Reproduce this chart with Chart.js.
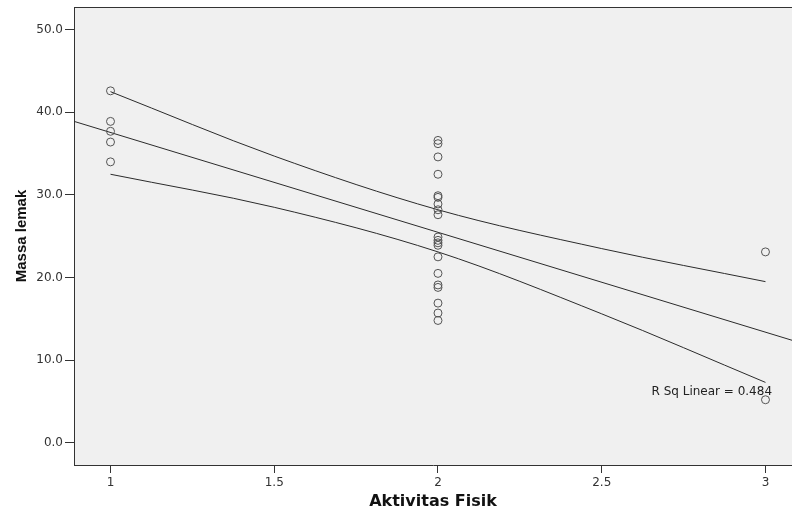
<!DOCTYPE html>
<html>
<head>
<meta charset="utf-8">
<script src="https://cdn.jsdelivr.net/npm/chart.js@4/dist/chart.umd.min.js"></script>
<style>
  html, body { margin: 0; padding: 0; background: #fff; }
  #wrap { width: 792px; height: 517px; }
</style>
</head>
<body>
<div id="wrap"><canvas id="massaChart"></canvas></div>
<script>
// data
const groupX = [1, 2, 3];
const massaAkt1 = [42.6, 38.9, 37.7, 36.4, 34.0];
const massaAkt2 = [36.6, 36.2, 34.6, 32.5, 29.9, 29.7, 28.9, 28.2, 27.6, 24.9,
                   24.5, 24.2, 23.9, 22.5, 20.5, 19.1, 18.8, 16.9, 15.7, 14.8];
const massaAkt3 = [23.1, 5.2];

const fitX = [0.889, 3.081];
const fitY = [38.9, 12.4];

const ciX = [1, 1.5, 2, 2.5, 3];
const ciUpper = [42.5, 34.7, 28.2, 23.5, 19.5];
const ciLower = [32.5, 28.5, 23.1, 15.6, 7.3];

const xTicks = [1, 1.5, 2, 2.5, 3];
const yTicks = [0, 10, 20, 30, 40, 50];
const rSqLabel = 'R Sq Linear = 0.484';

const scatterPoints = [];
[massaAkt1, massaAkt2, massaAkt3].forEach(function (vals, i) {
    vals.forEach(function (v) { scatterPoints.push({ x: groupX[i], y: v }); });
});

function toXY(xs, ys) {
    return xs.map(function (x, i) { return { x: x, y: ys[i] }; });
}

const lineColor = '#2b2b2b';

// grey plot background + top frame line + R square text
const plotFrame = {
    id: 'plotFrame',
    beforeDraw(chart) {
        const { ctx, chartArea: a } = chart;
        ctx.save();
        ctx.fillStyle = '#f0f0f0';
        ctx.fillRect(a.left, a.top, a.right - a.left, a.bottom - a.top);
        ctx.strokeStyle = '#333';
        ctx.lineWidth = 1;
        ctx.beginPath();
        ctx.moveTo(a.left, a.top + 0.5);
        ctx.lineTo(a.right, a.top + 0.5);
        ctx.stroke();
        ctx.restore();
    },
    afterDatasetsDraw(chart) {
        const { ctx, scales } = chart;
        ctx.save();
        ctx.font = '12px "DejaVu Sans"';
        ctx.fillStyle = '#222';
        ctx.textAlign = 'right';
        ctx.textBaseline = 'middle';
        ctx.fillText(rSqLabel, scales.x.getPixelForValue(3.02), scales.y.getPixelForValue(6.1));
        ctx.restore();
    }
};

new Chart(document.getElementById('massaChart'), {
    type: 'scatter',
    data: {
        datasets: [
            {
                label: 'Massa lemak',
                data: scatterPoints,
                pointStyle: 'circle',
                pointRadius: 4,
                pointBorderWidth: 1,
                borderColor: '#555',
                backgroundColor: 'rgba(0,0,0,0)'
            },
            {
                type: 'line',
                label: 'fit',
                data: toXY(fitX, fitY),
                borderColor: lineColor,
                borderWidth: 1,
                pointRadius: 0,
                fill: false
            },
            {
                type: 'line',
                label: 'upper',
                data: toXY(ciX, ciUpper),
                borderColor: lineColor,
                borderWidth: 1,
                pointRadius: 0,
                cubicInterpolationMode: 'monotone',
                fill: false
            },
            {
                type: 'line',
                label: 'lower',
                data: toXY(ciX, ciLower),
                borderColor: lineColor,
                borderWidth: 1,
                pointRadius: 0,
                cubicInterpolationMode: 'monotone',
                fill: false
            }
        ]
    },
    options: {
        responsive: true,
        maintainAspectRatio: false,
        animation: false,
        layout: { autoPadding: false, padding: { top: 7, right: 0, bottom: 0, left: 0 } },
        plugins: {
            legend: { display: false },
            tooltip: { enabled: false }
        },
        scales: {
            x: {
                type: 'linear',
                min: 0.8885,
                max: 3.081,
                afterBuildTicks(scale) { scale.ticks = xTicks.map(v => ({ value: v })); },
                afterFit(scale) { scale.height = 52; },
                border: { display: true, color: '#333', width: 1 },
                grid: { drawOnChartArea: false, drawTicks: true, tickLength: 8, color: '#333' },
                ticks: {
                    autoSkip: false,
                    maxRotation: 0,
                    padding: 3,
                    color: '#333',
                    font: { family: 'DejaVu Sans', size: 12 },
                    callback: v => String(v)
                },
                title: {
                    display: true,
                    text: 'Aktivitas Fisik',
                    color: '#111',
                    padding: { top: 0, bottom: 6 },
                    font: { family: 'DejaVu Sans', size: 16, weight: 'bold' }
                }
            },
            y: {
                type: 'linear',
                min: -2.7,
                max: 52.75,
                afterBuildTicks(scale) { scale.ticks = yTicks.map(v => ({ value: v })); },
                afterFit(scale) {
                    scale.width = 74;
                    scale.paddingTop = 0;
                    scale.paddingBottom = 0;
                },
                border: { display: true, color: '#333', width: 1 },
                grid: { drawOnChartArea: false, drawTicks: true, tickLength: 9, color: '#333' },
                ticks: {
                    padding: 2,
                    color: '#333',
                    font: { family: 'DejaVu Sans', size: 12 },
                    callback: v => v.toFixed(1)
                },
                title: {
                    display: true,
                    text: 'Massa lemak',
                    color: '#111',
                    padding: { top: 13, bottom: 0 },
                    font: { family: 'Liberation Sans', size: 15, weight: 'bold' }
                }
            }
        }
    },
    plugins: [plotFrame]
});
</script>
</body>
</html>
